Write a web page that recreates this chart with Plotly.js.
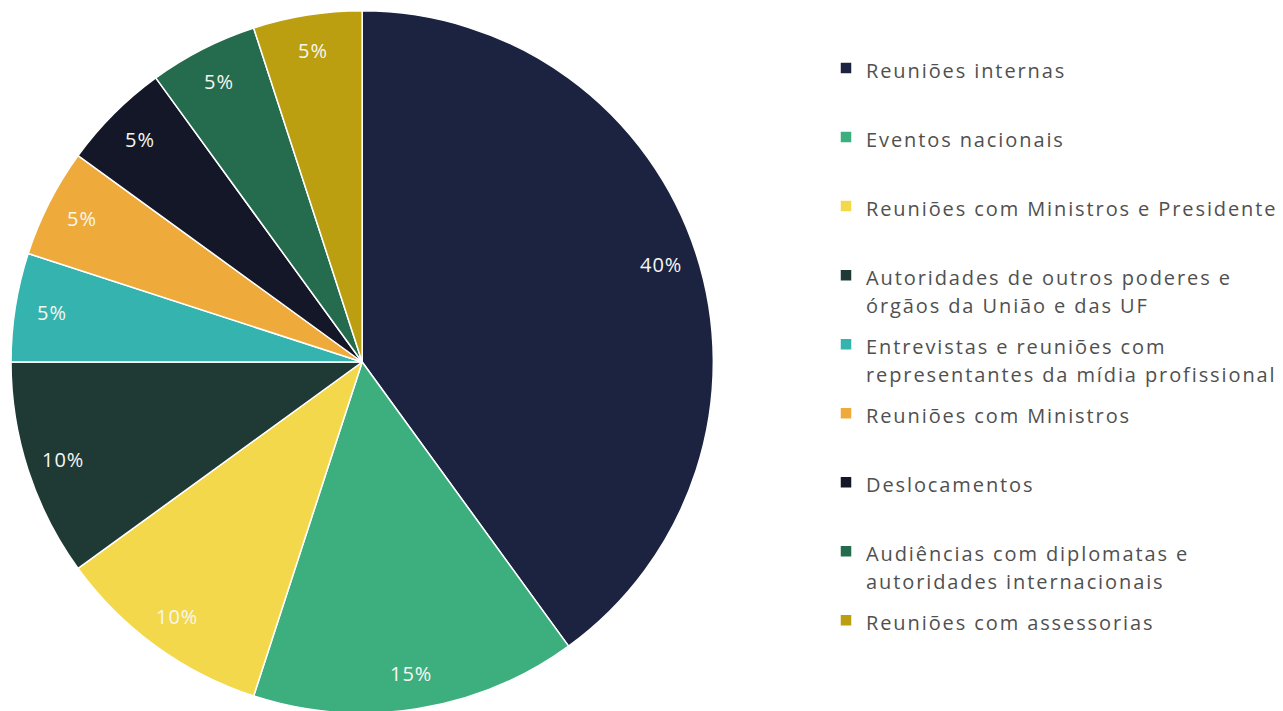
<!DOCTYPE html>
<html>
<head>
<meta charset="utf-8">
<script src="https://cdn.plot.ly/plotly-3.0.1.min.js"></script>
<style>
  html, body { margin: 0; padding: 0; overflow: hidden; background: #ffffff; }
  #chart { width: 1283px; height: 720px; }
</style>
</head>
<body>
<div id="chart"></div>
<script>
// Distribution of agenda activities by type (share of total, %)
const categories = [
  "Reuniões internas",
  "Eventos nacionais",
  "Reuniões com Ministros e Presidente",
  "Autoridades de outros poderes e<br>órgãos da União e das UF",
  "Entrevistas e reuniões com<br>representantes da mídia profissional",
  "Reuniões com Ministros",
  "Deslocamentos",
  "Audiências com diplomatas e<br>autoridades internacionais",
  "Reuniões com assessorias"
];
const shares = [40, 15, 10, 10, 5, 5, 5, 5, 5];
const sliceColors = [
  "#1c2340", "#3daf7f", "#f4d84b", "#1f3a35", "#35b3ae",
  "#eeab3b", "#131727", "#256b4d", "#bb9f10"
];

// Page geometry
const W = 1283, H = 720;
const margin = { l: 11, r: 0, t: 10, b: 6, pad: 0 };
const plotW = W - margin.l - margin.r;
const plotH = H - margin.t - margin.b;
const R = Math.min(plotW, plotH) / 2;
const pieDomainX = [0, (2 * R) / plotW];

const fontFamily = "'Open Sans', 'DejaVu Sans', sans-serif";
const legendTextStyle = "font-size:20px;letter-spacing:1.9px";

// Each legend entry takes two lines so every row has the same height;
// the second line of a wrapped entry is pulled up closer to the first
function legendLabel(text) {
  const lines = text.split("<br>");
  const first = "<span style='" + legendTextStyle + "'>" + lines[0] + "</span>";
  const second = lines.length > 1
    ? "<span style='" + legendTextStyle + ";baseline-shift:5px'>" + lines[1] + "</span>"
    : "&nbsp;";
  return first + "<br>" + second;
}

// Percentage labels placed along each slice's bisector
const total = shares.reduce((a, b) => a + b, 0);
const labelRadius = 0.895 * R;
let cum = 0;
const annotations = shares.map(v => {
  const mid = ((cum + v / 2) / total) * 2 * Math.PI;
  cum += v;
  return {
    xref: "paper", yref: "paper",
    x: (R + labelRadius * Math.sin(mid)) / plotW,
    y: 0.5 + (labelRadius * Math.cos(mid)) / plotH,
    text: "<span style='letter-spacing:1px'>" + Math.round((v / total) * 100) + "%</span>",
    showarrow: false,
    xanchor: "center", yanchor: "middle",
    font: { family: fontFamily, size: 20, color: "#f7f7f2" }
  };
});

const trace = {
  type: "pie",
  labels: categories.map(legendLabel),
  values: shares,
  sort: false,
  direction: "clockwise",
  rotation: 0,
  domain: { x: pieDomainX, y: [0, 1] },
  marker: { colors: sliceColors, line: { color: "#ffffff", width: 1.5 } },
  textinfo: "none",
  hoverinfo: "percent",
  showlegend: true
};

const layout = {
  width: W,
  height: H,
  margin: margin,
  paper_bgcolor: "#ffffff",
  plot_bgcolor: "#ffffff",
  font: { family: fontFamily, color: "#505050" },
  showlegend: true,
  legend: {
    x: (828 - margin.l) / plotW,
    xanchor: "left",
    y: 1 - (45 - margin.t) / plotH,
    yanchor: "top",
    valign: "top",
    traceorder: "normal",
    font: { family: fontFamily, size: 25.4, color: "#505050" },
    bgcolor: "rgba(0,0,0,0)",
    borderwidth: 0
  },
  annotations: annotations
};

Plotly.newPlot("chart", [trace], layout, { displayModeBar: false, staticPlot: true });
</script>
</body>
</html>
